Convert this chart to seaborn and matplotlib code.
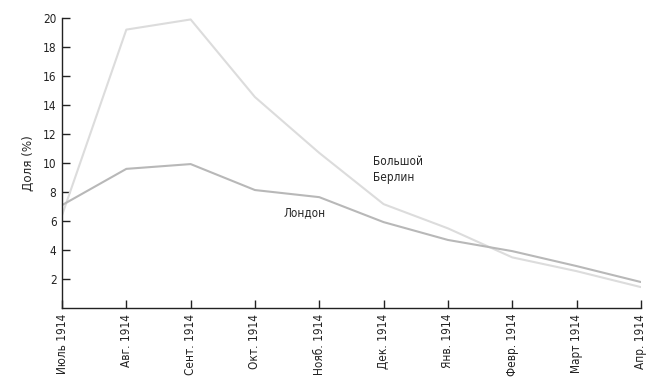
import pandas as pd
import matplotlib
matplotlib.use('Agg')
import matplotlib.pyplot as plt
import seaborn as sns


months = ['Июль 1914', 'Авг. 1914', 'Сент. 1914', 'Окт. 1914', 'Нояб. 1914',
          'Дек. 1914', 'Янв. 1914', 'Февр. 1914', 'Март 1914', 'Апр. 1914']
berlin = [6.4, 19.2, 19.9, 14.55, 10.7, 7.17, 5.5, 3.5, 2.55, 1.45]
london = [7.1, 9.6, 9.93, 8.14, 7.65, 5.93, 4.7, 3.93, 2.9, 1.8]
y_ticks = [2, 4, 6, 8, 10, 12, 14, 16, 18, 20]


def init_plotting():
    sns.set_style('ticks')
    plt.rcParams['font.family'] = ['Liberation Sans Narrow', 'DejaVu Sans']
    plt.rcParams['font.stretch'] = 'condensed'


def plot_share(save_to='out.png'):
    df = pd.DataFrame({
        'idx': list(range(len(months))) * 2,
        'share': berlin + london,
        'city': ['Большой Берлин'] * len(months) + ['Лондон'] * len(months),
    })

    fig = plt.figure(figsize=(6.62, 3.79), dpi=100)
    ax = fig.add_axes([0.0937, 0.187, 0.8743, 0.7655])

    sns.lineplot(
        data=df,
        x='idx',
        y='share',
        hue='city',
        palette={'Большой Берлин': '#dcdcdc', 'Лондон': '#b8b8b8'},
        linewidth=1.5,
        legend=False,
        ax=ax,
    )

    ax.set_xlim(0, len(months) - 1)
    ax.set_ylim(0, 20)
    ax.set_xticks(range(len(months)))
    ax.set_xticklabels(months, rotation=90, fontsize=8.5)
    ax.set_yticks(y_ticks)
    ax.set_yticklabels([str(t) for t in y_ticks], fontsize=8.5)
    ax.tick_params(direction='in', length=6, width=1, colors='#222222', pad=4)
    ax.set_xlabel('')
    ax.set_ylabel('Доля (%)', fontsize=9.5, labelpad=6)
    for side in ['top', 'right']:
        ax.spines[side].set_visible(False)
    for side in ['left', 'bottom']:
        ax.spines[side].set_color('#222222')
        ax.spines[side].set_linewidth(1)

    ax.text(4.83, 10.55, 'Большой\nБерлин', fontsize=8.5, va='top', ha='left',
            linespacing=1.3)
    ax.text(3.44, 6.6, 'Лондон', fontsize=8.5, va='center', ha='left')

    fig.savefig(save_to, dpi=100)


init_plotting()
plot_share()
